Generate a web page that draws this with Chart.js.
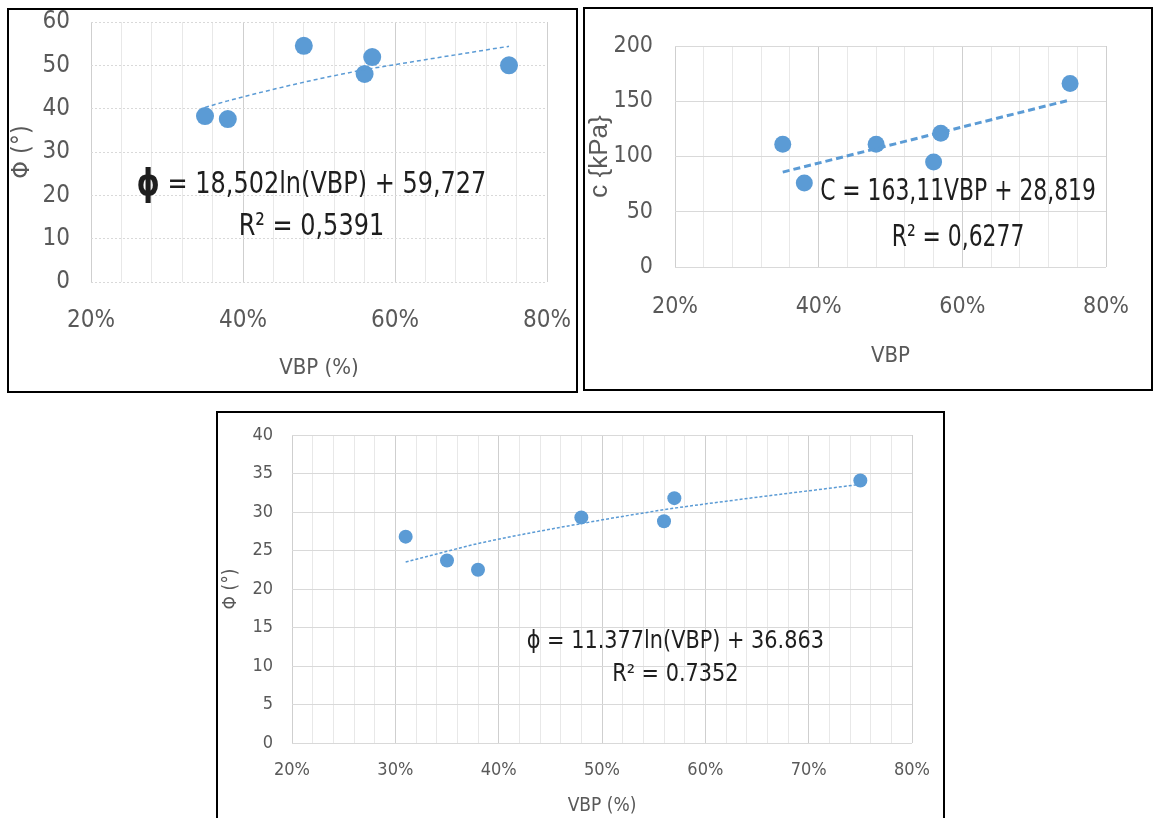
<!DOCTYPE html>
<html>
<head>
<meta charset="utf-8">
<script src="https://cdn.jsdelivr.net/npm/chart.js@4.4.0/dist/chart.umd.min.js"></script>
<style>
  body { margin: 0; background: #fff; width: 1154px; height: 818px; overflow: hidden; position: relative; }
  .box { position: absolute; border: 2px solid #000; box-sizing: border-box; }
  canvas { position: absolute; }
</style>
</head>
<body>
<div class="box" style="left:7px;top:8px;width:571px;height:385px"></div>
<div class="box" style="left:583px;top:7px;width:570px;height:384px"></div>
<div class="box" style="left:216px;top:411px;width:729px;height:420px"></div>
<canvas id="c1" width="580" height="395" style="left:0;top:0"></canvas>
<canvas id="c2" width="574" height="395" style="left:580px;top:0"></canvas>
<canvas id="c3" width="728" height="406" style="left:217px;top:412px"></canvas>
<script>
// chart 1 - friction angle vs VBP (top left)
var vbp1 = [35, 38, 48, 56, 57, 75];
var phi1 = [38.3, 37.6, 54.5, 48.0, 51.9, 50.0];
var trend1 = [40.3, 41.8, 46.1, 49.0, 49.3, 54.4];

// chart 2 - cohesion vs VBP (top right)
var vbp2 = [35, 38, 48, 56, 57, 75];
var coh2 = [111, 76, 111, 95, 121, 166];
var trend2X = [35, 75];
var trend2 = [85.9, 151.2];

// chart 3 - friction angle vs VBP (bottom)
var vbp3 = [31, 35, 38, 48, 56, 57, 75];
var phi3 = [26.8, 23.7, 22.5, 29.3, 28.8, 31.8, 34.1];
var trend3 = [23.5, 24.9, 25.9, 28.5, 30.3, 30.5, 33.6];

var BLUE = '#5b9bd5';
var GREY = '#595959';
var NARROW = "'DejaVu Sans Condensed', 'DejaVu Sans', sans-serif";
var WIDE = "'Liberation Sans', Arial, sans-serif";

Chart.defaults.font.family = NARROW;
Chart.defaults.color = GREY;

function pts(xs, ys) {
  return xs.map(function(x, i) { return { x: x, y: ys[i] }; });
}

// draws the regression equation text, centred on a data position,
// squeezed sideways a little like the narrow office font of the original
var eqText = {
  id: 'eqText',
  afterDatasetsDraw: function(chart, args, opts) {
    var ctx = chart.ctx;
    var xs = chart.scales.x, ys = chart.scales.y;
    var sx = opts.squeeze || 1;
    (opts.lines || []).forEach(function(l) {
      var px = xs.getPixelForValue(l.x), py = ys.getPixelForValue(l.y);
      ctx.save();
      ctx.textBaseline = 'middle';
      ctx.textAlign = 'left';
      ctx.fillStyle = '#1e1e1e';
      var w = 0;
      l.parts.forEach(function(p) { ctx.font = p.font; w += ctx.measureText(p.text).width; });
      ctx.translate(px - w * sx / 2, py);
      ctx.scale(sx, 1);
      var cx = 0;
      l.parts.forEach(function(p) {
        ctx.font = p.font;
        ctx.fillText(p.text, cx, 0);
        cx += ctx.measureText(p.text).width;
      });
      ctx.restore();
    });
  }
};

// keep label overflow from pushing the plot area around
function noPad(sc) {
  sc.paddingTop = 0; sc.paddingBottom = 0; sc.paddingLeft = 0; sc.paddingRight = 0;
}

function makeChart(id, s) {
  return new Chart(document.getElementById(id), {
    type: 'scatter',
    data: {
      datasets: [
        {
          data: s.trend,
          showLine: true,
          borderColor: BLUE,
          borderWidth: s.trendWidth,
          borderDash: s.dash,
          pointRadius: 0,
          fill: false,
          cubicInterpolationMode: 'monotone',
          order: 0
        },
        {
          data: s.points,
          backgroundColor: BLUE,
          borderColor: BLUE,
          borderWidth: 0,
          pointRadius: s.r,
          pointHoverRadius: s.r,
          order: 1
        }
      ]
    },
    plugins: [eqText],
    options: {
      responsive: false,
      animation: false,
      events: [],
      layout: { padding: s.pad },
      plugins: {
        legend: { display: false },
        tooltip: { enabled: false },
        eqText: { lines: s.lines, squeeze: s.squeeze }
      },
      scales: {
        x: {
          type: 'linear',
          min: 20, max: 80,
          afterFit: function(sc) { sc.height = s.xH; noPad(sc); },
          ticks: {
            stepSize: s.xStep,
            autoSkip: false,
            maxRotation: 0,
            padding: s.xTickPad,
            font: { size: s.tickSize },
            callback: function(v) { return v % s.xMajor === 0 ? v + '%' : ''; }
          },
          grid: {
            drawTicks: false,
            color: function(c) { return c.tick && c.tick.value % s.xMajor === 0 ? '#cfcfcf' : '#e8e8e8'; }
          },
          border: { display: false },
          title: {
            display: true, text: s.xTitle, color: GREY,
            font: { size: s.xTitleSize },
            padding: { top: 0, bottom: s.xTitlePad }
          }
        },
        y: {
          min: 0, max: s.yMax,
          afterFit: function(sc) { sc.width = s.yW; noPad(sc); },
          ticks: {
            stepSize: s.yStep,
            padding: s.yTickPad,
            font: { size: s.tickSize }
          },
          grid: { drawTicks: false, color: '#d9d9d9' },
          border: { display: false, dash: s.yDash },
          title: {
            display: true, text: s.yTitle, color: GREY,
            font: s.yTitleFont,
            padding: { top: s.yTitlePad, bottom: 0 }
          }
        }
      }
    }
  });
}

makeChart('c1', {
  points: pts(vbp1, phi1),
  trend: pts(vbp1, trend1),
  r: 9, trendWidth: 1.5, dash: [4, 3],
  pad: { left: 0, top: 22, right: 33, bottom: 0 },
  xH: 113, xStep: 4, xMajor: 20, xTickPad: 24, tickSize: 24,
  xTitle: 'VBP (%)', xTitleSize: 22, xTitlePad: 14,
  yMax: 60, yW: 91, yStep: 10, yTickPad: 21, yDash: [2, 2],
  yTitle: 'Φ (°)', yTitleFont: { size: 25 }, yTitlePad: 7,
  squeeze: 0.86,
  lines: [
    { x: 49, y: 22.3, parts: [
      { text: 'ϕ', font: 'bold 38px ' + NARROW },
      { text: ' = 18,502ln(VBP) + 59,727', font: '31px ' + NARROW }
    ] },
    { x: 49, y: 12.6, parts: [{ text: 'R² = 0,5391', font: '31px ' + NARROW }] }
  ]
});

makeChart('c2', {
  points: pts(vbp2, coh2),
  trend: pts(trend2X, trend2),
  r: 8.5, trendWidth: 3, dash: [7, 4],
  pad: { left: 0, top: 46, right: 48, bottom: 0 },
  xH: 128, xStep: 4, xMajor: 20, xTickPad: 26, tickSize: 23,
  xTitle: 'VBP', xTitleSize: 22, xTitlePad: 26,
  yMax: 200, yW: 95, yStep: 50, yTickPad: 22, yDash: [],
  yTitle: 'c {kPa}', yTitleFont: { size: 26, family: WIDE }, yTitlePad: 4,
  squeeze: 0.81,
  lines: [
    { x: 59.4, y: 67.7, parts: [{ text: 'C = 163,11VBP + 28,819', font: '30px ' + NARROW }] },
    { x: 59.4, y: 26, parts: [{ text: 'R² = 0,6277', font: '30px ' + NARROW }] }
  ]
});

makeChart('c3', {
  points: pts(vbp3, phi3),
  trend: pts(vbp3, trend3),
  r: 7, trendWidth: 1.5, dash: [3, 2],
  pad: { left: 0, top: 23, right: 33, bottom: 0 },
  xH: 75, xStep: 2, xMajor: 10, xTickPad: 17, tickSize: 18,
  xTitle: 'VBP (%)', xTitleSize: 19, xTitlePad: 1,
  yMax: 40, yW: 75, yStep: 5, yTickPad: 19, yDash: [],
  yTitle: 'Φ (°)', yTitleFont: { size: 19 }, yTitlePad: 3,
  squeeze: 0.965,
  lines: [
    { x: 57.1, y: 13.1, parts: [{ text: 'ϕ = 11.377ln(VBP) + 36.863', font: '24px ' + NARROW }] },
    { x: 57.1, y: 8.9, parts: [{ text: 'R² = 0.7352', font: '24px ' + NARROW }] }
  ]
});
</script>
</body>
</html>
